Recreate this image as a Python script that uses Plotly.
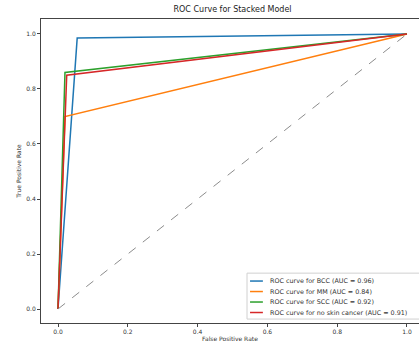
import plotly.graph_objects as go

# ROC operating points (false positive rate, true positive rate) per class
class_names = ["BCC", "MM", "SCC", "no skin cancer"]
fpr_points = {
    "BCC": [0.0, 0.055, 1.0],
    "MM": [0.0, 0.02, 1.0],
    "SCC": [0.0, 0.02, 1.0],
    "no skin cancer": [0.0, 0.025, 1.0],
}
tpr_points = {
    "BCC": [0.0, 0.985, 1.0],
    "MM": [0.0, 0.70, 1.0],
    "SCC": [0.0, 0.86, 1.0],
    "no skin cancer": [0.0, 0.85, 1.0],
}
auc_values = {"BCC": 0.96, "MM": 0.84, "SCC": 0.92, "no skin cancer": 0.91}
class_colors = ["#1f77b4", "#ff7f0e", "#2ca02c", "#d62728"]

chance_line = [0.0, 1.0]
tick_values = [0.0, 0.2, 0.4, 0.6, 0.8, 1.0]

FONT = "DejaVu Sans"

fig = go.Figure()
for name, color in zip(class_names, class_colors):
    fig.add_trace(go.Scatter(
        x=fpr_points[name], y=tpr_points[name], mode="lines",
        line=dict(color=color, width=1.5),
        name=f"ROC curve for {name} (AUC = {auc_values[name]:.2f})",
        showlegend=False,
    ))

fig.add_trace(go.Scatter(
    x=chance_line, y=chance_line, mode="lines",
    line=dict(color="#8c8c8c", width=1, dash="dash"),
    showlegend=False,
))

# Compact legend box in the lower-right corner of the axes
legend_shapes = [dict(
    type="rect", xref="paper", yref="paper",
    x0=0.545, x1=1.02, y0=0.013, y1=0.164,
    line=dict(color="#d0d0d0", width=1), fillcolor="rgba(255,255,255,0.85)",
    layer="above",
)]
legend_notes = []
for i, (name, color) in enumerate(zip(class_names, class_colors)):
    row_y = 0.138 - i * 0.0345
    legend_shapes.append(dict(
        type="line", xref="paper", yref="paper",
        x0=0.553, x1=0.587, y0=row_y, y1=row_y,
        line=dict(color=color, width=1.5), layer="above",
    ))
    legend_notes.append(dict(
        xref="paper", yref="paper", x=0.600, y=row_y,
        xanchor="left", yanchor="middle", showarrow=False,
        text=f"ROC curve for {name} (AUC = {auc_values[name]:.2f})",
        font=dict(family=FONT, size=6.4, color="#333"),
    ))

axis_style = dict(
    showgrid=False, zeroline=False, showline=True, linecolor="#444", linewidth=1,
    ticks="outside", ticklen=3, tickwidth=1, tickcolor="#444",
    tickvals=tick_values, tickformat=".1f",
    tickfont=dict(family=FONT, size=6, color="#333"),
)

fig.update_layout(
    width=419, height=345,
    margin=dict(l=41, r=0, t=19, b=22),
    paper_bgcolor="white", plot_bgcolor="white",
    title=dict(text="ROC Curve for Stacked Model", x=0.555, xanchor="center",
               y=0.972, yanchor="middle",
               font=dict(family=FONT, size=8, color="#222")),
    xaxis=dict(axis_style, range=[-0.0487, 1.0344], mirror=True,
               title=dict(text="False Positive Rate", standoff=2,
                          font=dict(family=FONT, size=6, color="#333"))),
    yaxis=dict(axis_style, range=[-0.0509, 1.0545],
               title=dict(text="True Positive Rate", standoff=4,
                          font=dict(family=FONT, size=6, color="#333"))),
    shapes=legend_shapes,
    annotations=legend_notes,
    showlegend=False,
)

fig.write_html("out.html")
